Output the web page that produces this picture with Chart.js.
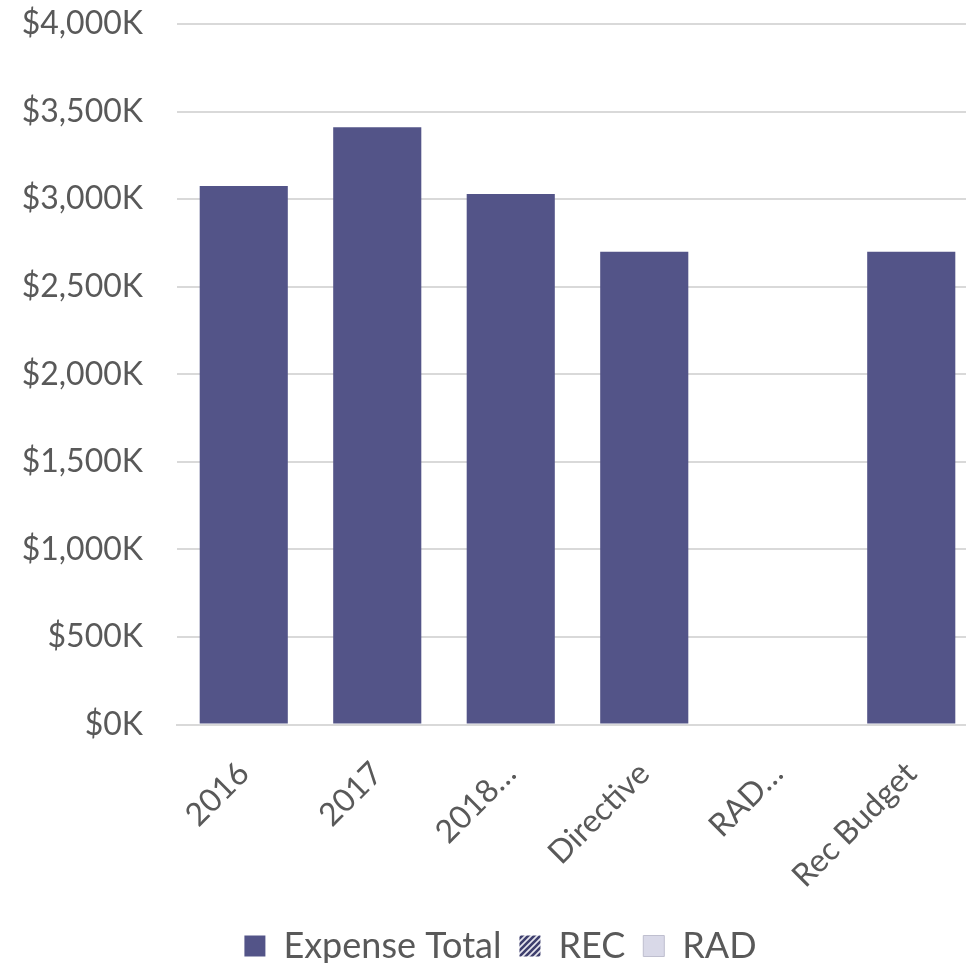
<!DOCTYPE html>
<html>
<head>
<meta charset="utf-8">
<script src="https://cdn.jsdelivr.net/npm/chart.js@4.4.0/dist/chart.umd.min.js"></script>
<style>
  html, body { margin: 0; padding: 0; background: #fff; overflow: hidden; }
  #wrap { width: 978px; height: 963px; }
</style>
</head>
<body>
<div id="wrap"><canvas id="budgetChart" width="978" height="963"></canvas></div>
<script>
const categories = ['2016', '2017', '2018…', 'Directive', 'RAD…', 'Rec Budget'];
const expenseTotal = [3075, 3410, 3030, 2700, null, 2700];
const recValues = [null, null, null, null, null, null];
const radValues = [null, null, null, null, null, null];
const yTicks = [0, 500, 1000, 1500, 2000, 2500, 3000, 3500, 4000];

const barColor = '#535488';
const textColor = '#595959';
const gridColor = '#d9d9d9';

// diagonal hatch for REC
function hatchPattern() {
  const c = document.createElement('canvas');
  c.width = 6; c.height = 6;
  const g = c.getContext('2d');
  g.fillStyle = '#e6e6ee';
  g.fillRect(0, 0, 6, 6);
  g.strokeStyle = '#3e3f6e';
  g.lineWidth = 2.6;
  g.beginPath();
  g.moveTo(0, 6); g.lineTo(6, 0);
  g.moveTo(-3, 3); g.lineTo(3, -3);
  g.moveTo(3, 9); g.lineTo(9, 3);
  g.stroke();
  return document.createElement('canvas').getContext('2d').createPattern(c, 'repeat');
}

Chart.defaults.font.family = 'Lato, "Open Sans", sans-serif';
Chart.defaults.color = textColor;

const ctx = document.getElementById('budgetChart').getContext('2d');
new Chart(ctx, {
  type: 'bar',
  data: {
    labels: categories,
    datasets: [
      { label: 'Expense Total', data: expenseTotal, backgroundColor: barColor },
      { label: 'REC', data: recValues, backgroundColor: hatchPattern() },
      { label: 'RAD', data: radValues, backgroundColor: '#d9d9e8', borderColor: '#bfbfcf', borderWidth: 1 }
    ]
  },
  options: {
    responsive: false,
    animation: false,
    layout: { padding: { top: 24, left: 23, right: 0, bottom: -11 } },
    datasets: { bar: { categoryPercentage: 1, barPercentage: 0.66 } },
    scales: {
      x: {
        stacked: true,
        grid: { display: false },
        border: { color: gridColor, width: 2 },
        afterFit: s => { s.paddingLeft = 0; s.paddingRight = 0; s.height -= 7; },
        ticks: {
          font: { size: 32 },
          color: textColor,
          minRotation: 45,
          maxRotation: 45,
          padding: 22
        }
      },
      y: {
        stacked: true,
        min: 0,
        max: 4000,
        afterBuildTicks: axis => { axis.ticks = yTicks.map(v => ({ value: v })); },
        afterFit: s => { s.paddingTop = 0; s.paddingBottom = 0; s.width = 154; },
        grid: { color: gridColor, lineWidth: 2, drawTicks: false },
        border: { display: false },
        ticks: {
          font: { size: 32 },
          color: textColor,
          padding: 34,
          callback: v => '$' + v.toLocaleString('en-US') + 'K'
        }
      }
    },
    plugins: {
      tooltip: { enabled: false },
      legend: {
        position: 'bottom',
        labels: {
          font: { size: 36 },
          color: textColor,
          boxWidth: 21,
          boxHeight: 21,
          padding: 18
        }
      }
    }
  }
});
</script>
</body>
</html>
